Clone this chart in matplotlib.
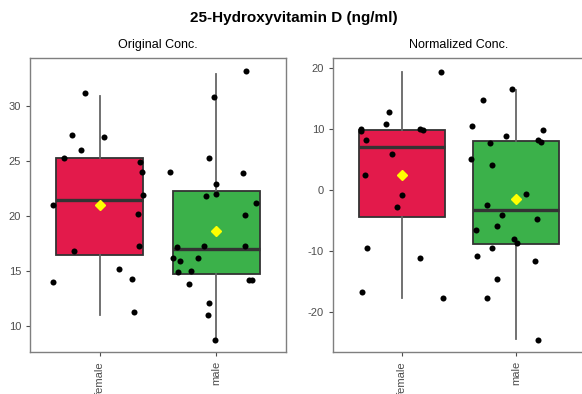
import numpy as np
import matplotlib.pyplot as plt

plt.rcParams["font.family"] = "Liberation Sans"
plt.rcParams["axes.unicode_minus"] = False

groups = ["female", "male"]
box_colors = ["#E31A4B", "#3BB14A"]

# box stats: whislo, q1, med, q3, whishi, mean
orig_stats = [
    [11.0, 16.5, 21.43, 25.26, 30.91, 20.97],
    [8.9, 14.74, 17.0, 22.25, 32.95, 18.66],
]
norm_stats = [
    [-17.7, -4.48, 7.0, 9.84, 19.34, 2.46],
    [-24.4, -8.9, -3.33, 7.92, 16.4, -1.58],
]

# jittered points (x offset from group centre, value)
orig_female_dx = [-0.127, -0.238, 0.033, -0.164, -0.307, 0.344, 0.364, 0.370,
                  -0.401, 0.327, 0.333, -0.221, 0.167, 0.278, -0.401, 0.296]
orig_female_y = [31.22, 27.33, 27.2, 26.02, 25.29, 24.95, 23.98, 21.91,
                 20.97, 20.21, 17.23, 16.81, 15.17, 14.32, 13.98, 11.28]
orig_male_dx = [0.26, -0.023, -0.066, -0.40, 0.234, 0.0, -0.088, 0.0,
                0.343, 0.246, -0.34, -0.103, 0.249, -0.374, -0.157, -0.31,
                -0.332, -0.22, -0.234, 0.285, 0.305, -0.066, -0.074, -0.009]
orig_male_y = [33.16, 30.85, 25.29, 24.04, 23.92, 22.92, 21.79, 22.0,
               21.22, 20.12, 17.2, 17.26, 17.26, 16.14, 16.17, 15.93,
               14.95, 15.0, 13.86, 14.19, 14.22, 12.1, 10.97, 8.72]

norm_female_dx = [0.346, -0.108, -0.137, -0.358, -0.355, 0.163, 0.189, -0.309,
                  -0.085, -0.323, 0.0, -0.041, -0.3, 0.163, -0.349, 0.358]
norm_female_y = [19.34, 12.73, 10.82, 9.95, 9.67, 9.89, 9.78, 8.09,
                 5.79, 2.40, -0.87, -2.84, -9.45, -11.2, -16.67, -17.7]
norm_male_dx = [-0.04, -0.293, -0.384, 0.23, -0.093, 0.192, 0.216, -0.232,
                -0.395, -0.212, 0.087, -0.256, -0.125, 0.178, -0.166, -0.352,
                -0.02, 0.003, -0.209, -0.343, 0.163, -0.171, -0.253, 0.186]
norm_male_y = [16.56, 14.7, 10.44, 9.78, 8.85, 8.14, 7.87, 7.65,
               5.03, 4.04, -0.77, -2.51, -4.15, -4.81, -6.01, -6.56,
               -8.03, -8.74, -9.45, -10.87, -11.64, -14.64, -17.76, -24.54]

fig = plt.figure(figsize=(5.82, 3.94), dpi=100)
W, H = 582, 394
ax1 = fig.add_axes([30 / W, 1 - 352 / H, 256 / W, 294 / H])
ax2 = fig.add_axes([333 / W, 1 - 352 / H, 252 / W, 294 / H])


def panel(ax, stats, pts, title, ylim, yticks):
    bx = []
    for s in stats:
        bx.append(dict(whislo=s[0], q1=s[1], med=s[2], q3=s[3], whishi=s[4],
                       mean=s[5], fliers=[]))
    b = ax.bxp(bx, positions=[1, 2], widths=0.75, patch_artist=True,
               showcaps=False, showmeans=True, meanline=False,
               boxprops=dict(edgecolor="#333333", linewidth=1.3),
               whiskerprops=dict(color="#666666", linewidth=1.3),
               medianprops=dict(color="#333333", linewidth=2.4),
               meanprops=dict(marker="D", markerfacecolor="#FFFF00",
                              markeredgecolor="#FFFF00", markersize=5))
    for p, c in zip(b["boxes"], box_colors):
        p.set_facecolor(c)
    for i, (dx, yy) in enumerate(pts):
        ax.scatter(np.array(dx) + i + 1, yy, s=19, color="black", zorder=5,
                   linewidths=0)
    ax.set_xlim(0.4, 2.6)
    ax.set_ylim(*ylim)
    ax.set_yticks(yticks)
    ax.set_xticks([1, 2])
    ax.set_xticklabels(groups, rotation=90)
    ax.tick_params(labelsize=8, colors="#4D4D4D", length=3, width=0.8)
    for sp in ax.spines.values():
        sp.set_color("#7F7F7F")
        sp.set_linewidth(1.0)
    ax.set_title(title, fontsize=9, pad=7.5)


panel(ax1, orig_stats, [(orig_female_dx, orig_female_y), (orig_male_dx, orig_male_y)],
      "Original Conc.", (7.64, 34.36), [10, 15, 20, 25, 30])
panel(ax2, norm_stats, [(norm_female_dx, norm_female_y), (norm_male_dx, norm_male_y)],
      "Normalized Conc.", (-26.56, 21.58), [-20, -10, 0, 10, 20])

fig.text(294 / W, 1 - 18 / H, "25-Hydroxyvitamin D (ng/ml)", ha="center", va="center",
         fontsize=11, fontweight="bold")

fig.savefig("out.png", dpi=100)
